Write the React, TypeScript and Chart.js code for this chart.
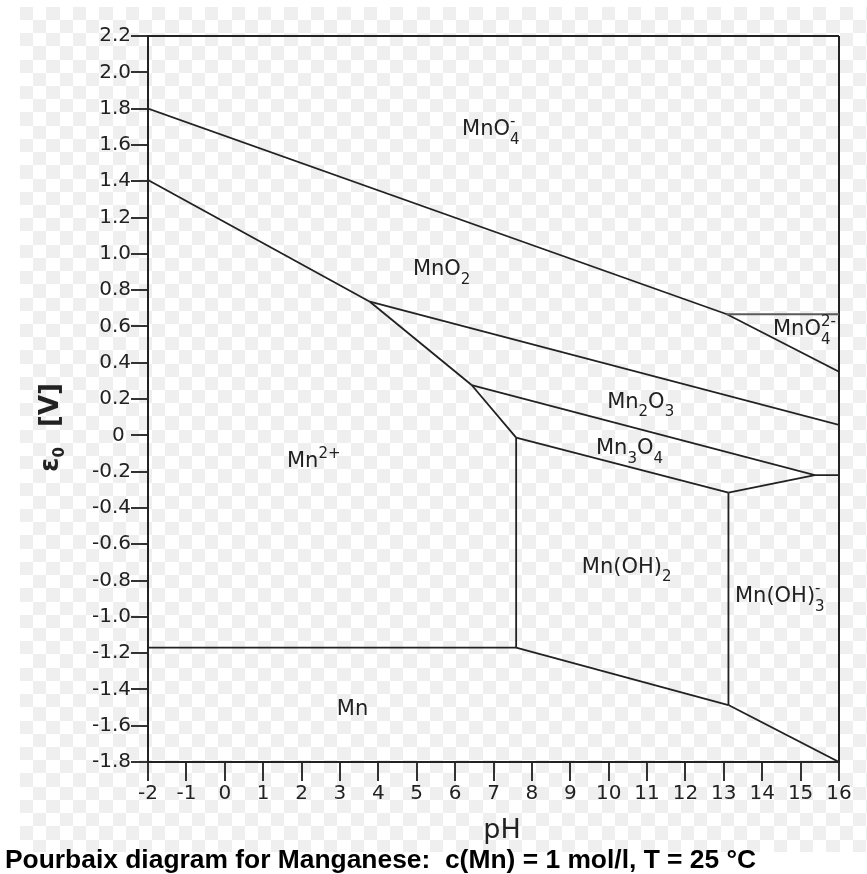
import React, { useEffect, useRef } from 'react';
import { Chart, registerables } from 'chart.js';

Chart.register(...registerables);

const W = 867;
const H = 874;

// Axis ticks
const xTickValues = [-2, -1, 0, 1, 2, 3, 4, 5, 6, 7, 8, 9, 10, 11, 12, 13, 14, 15, 16];
const xTickLabels = ['-2', '-1', '0', '1', '2', '3', '4', '5', '6', '7', '8', '9', '10', '11', '12', '13', '14', '15', '16'];
const yTickValues = [-1.8, -1.6, -1.4, -1.2, -1.0, -0.8, -0.6, -0.4, -0.2, 0, 0.2, 0.4, 0.6, 0.8, 1.0, 1.2, 1.4, 1.6, 1.8, 2.0, 2.2];
const yTickLabels = ['-1.8', '-1.6', '-1.4', '-1.2', '-1.0', '-0.8', '-0.6', '-0.4', '-0.2', '0 ', '0.2', '0.4', '0.6', '0.8', '1.0', '1.2', '1.4', '1.6', '1.8', '2.0', '2.2'];

// Boundary lines (pH, E0 in V)
const mno4MnO2PH = [-2, 13.08];
const mno4MnO2E = [1.80, 0.667];
const mno4Mno42PH = [13.08, 16];
const mno4Mno42E = [0.667, 0.667];
const mno42MnO2PH = [13.08, 16];
const mno42MnO2E = [0.667, 0.35];
const mnO2Mn2PH = [-2, 3.78];
const mnO2Mn2E = [1.407, 0.736];
const mnO2Mn2O3PH = [3.78, 16];
const mnO2Mn2O3E = [0.736, 0.057];
const mn2O3Mn2PH = [3.78, 6.43];
const mn2O3Mn2E = [0.736, 0.277];
const mn2O3Mn3O4PH = [6.43, 15.37, 16];
const mn2O3Mn3O4E = [0.277, -0.219, -0.219];
const mn3O4Mn2PH = [6.43, 7.59];
const mn3O4Mn2E = [0.277, -0.013];
const mn3O4MnOH2PH = [7.59, 13.12];
const mn3O4MnOH2E = [-0.013, -0.316];
const mn3O4MnOH3PH = [13.12, 15.37];
const mn3O4MnOH3E = [-0.316, -0.219];
const mnOH2Mn2PH = [7.59, 7.59];
const mnOH2Mn2E = [-0.013, -1.170];
const mnMn2PH = [-2, 7.59];
const mnMn2E = [-1.170, -1.170];
const mnMnOH2PH = [7.59, 13.12];
const mnMnOH2E = [-1.170, -1.486];
const mnOH2MnOH3PH = [13.12, 13.12];
const mnOH2MnOH3E = [-0.316, -1.486];
const mnMnOH3PH = [13.12, 16];
const mnMnOH3E = [-1.486, -1.80];

// Region labels: chunks of [text, subscript, superscript]
const regionParts: string[][][] = [
  [['MnO', '4', '-']],
  [['MnO', '2', '']],
  [['MnO', '4', '2-']],
  [['Mn', '2', ''], ['O', '3', '']],
  [['Mn', '3', ''], ['O', '4', '']],
  [['Mn', '', '2+']],
  [['Mn(OH)', '2', '']],
  [['Mn(OH)', '3', '-']],
  [['Mn', '', '']],
];
const regionPH = [6.18, 4.90, 14.28, 9.96, 9.67, 1.62, 9.30, 13.29, 2.92];
const regionE = [1.682, 0.911, 0.580, 0.183, -0.075, -0.147, -0.726, -0.891, -1.512];

const xTitle = 'pH';
const chartTitle = 'Pourbaix diagram for Manganese:  c(Mn) = 1 mol/l, T = 25 °C';

const DARK = '#222222';
const FONT = '"DejaVu Sans", Verdana, sans-serif';

const mk = (px: number[], e: number[], color = DARK, width = 1.8) => ({
  data: px.map((v, i) => ({ x: v, y: e[i] })),
  showLine: true,
  borderColor: color,
  borderWidth: width,
  pointRadius: 0,
  fill: false,
});

const checkerPlugin = {
  id: 'checker',
  beforeDraw(chart: any) {
    const ctx = chart.ctx as CanvasRenderingContext2D;
    ctx.save();
    ctx.fillStyle = '#ffffff';
    ctx.fillRect(0, 0, chart.width, chart.height);
    const s = 13.22;
    const x0 = 20;
    const y0 = 6.67;
    const xEnd = 867;
    const yEnd = 852;
    ctx.fillStyle = '#efefef';
    for (let r = 0; y0 + r * s < yEnd; r++) {
      for (let c = 0; x0 + c * s < xEnd; c++) {
        if ((r + c) % 2 !== 0) continue;
        const a = Math.round(x0 + c * s);
        const b = Math.round(Math.min(xEnd, x0 + (c + 1) * s));
        const t = Math.round(y0 + r * s);
        const u = Math.round(Math.min(yEnd, y0 + (r + 1) * s));
        ctx.fillRect(a, t, b - a, u - t);
      }
    }
    ctx.restore();
  },
};

const textPlugin = {
  id: 'texts',
  afterDraw(chart: any) {
    const ctx = chart.ctx as CanvasRenderingContext2D;
    const xs = chart.scales.x;
    const ys = chart.scales.y;
    ctx.save();
    ctx.fillStyle = DARK;
    // region labels
    for (let i = 0; i < regionParts.length; i++) {
      let x = xs.getPixelForValue(regionPH[i]);
      const y = ys.getPixelForValue(regionE[i]);
      ctx.textAlign = 'left';
      ctx.textBaseline = 'middle';
      for (const [main, sub, sup] of regionParts[i]) {
        ctx.font = `21px ${FONT}`;
        ctx.fillText(main, x, y);
        x += ctx.measureText(main).width;
        ctx.font = `15px ${FONT}`;
        let w = 0;
        if (sub) {
          ctx.fillText(sub, x, y + 10);
          w = Math.max(w, ctx.measureText(sub).width);
        }
        if (sup) {
          ctx.fillText(sup, x, y - 8);
          w = Math.max(w, ctx.measureText(sup).width);
        }
        x += w;
      }
    }
    // x axis title
    ctx.font = `27px ${FONT}`;
    ctx.textAlign = 'center';
    ctx.textBaseline = 'alphabetic';
    ctx.fillText(xTitle, 502, 838);
    // y axis title (rotated)
    ctx.save();
    ctx.translate(58, 472);
    ctx.rotate(-Math.PI / 2);
    ctx.textAlign = 'left';
    ctx.font = `bold 26px ${FONT}`;
    ctx.fillText('ε', 0, 0);
    const ew = ctx.measureText('ε').width;
    ctx.font = `bold 15px ${FONT}`;
    ctx.fillText('0', ew, 6);
    ctx.font = `bold 26px ${FONT}`;
    ctx.fillText('[V]', 45, 0);
    ctx.restore();
    // chart title
    ctx.fillStyle = '#000000';
    ctx.font = 'bold 26.4px "Liberation Sans", Arial, sans-serif';
    ctx.textAlign = 'left';
    ctx.fillText(chartTitle, 5, 868);
    ctx.restore();
  },
};

export default function App() {
  const ref = useRef<HTMLCanvasElement>(null);
  useEffect(() => {
    document.body.style.margin = '0';
    const canvas = ref.current!;
    const datasets = [
      mk(mno4MnO2PH, mno4MnO2E),
      mk(mno4Mno42PH, mno4Mno42E, '#5a5a5a', 2.2),
      mk(mno42MnO2PH, mno42MnO2E),
      mk(mnO2Mn2PH, mnO2Mn2E),
      mk(mnO2Mn2O3PH, mnO2Mn2O3E),
      mk(mn2O3Mn2PH, mn2O3Mn2E),
      mk(mn2O3Mn3O4PH, mn2O3Mn3O4E),
      mk(mn3O4Mn2PH, mn3O4Mn2E),
      mk(mn3O4MnOH2PH, mn3O4MnOH2E),
      mk(mn3O4MnOH3PH, mn3O4MnOH3E),
      mk(mnOH2Mn2PH, mnOH2Mn2E),
      mk(mnMn2PH, mnMn2E),
      mk(mnMnOH2PH, mnMnOH2E),
      mk(mnOH2MnOH3PH, mnOH2MnOH3E),
      mk(mnMnOH3PH, mnMnOH3E),
    ];
    const chart = new Chart(canvas, {
      type: 'scatter',
      data: { datasets: datasets as any },
      options: {
        animation: false,
        responsive: false,
        events: [],
        layout: { padding: { left: 0, top: 36, right: 28, bottom: 0 } },
        plugins: { legend: { display: false }, tooltip: { enabled: false }, title: { display: false } },
        scales: {
          x: {
            type: 'linear',
            min: -2,
            max: 16,
            afterBuildTicks: (s: any) => {
              s.ticks = xTickValues.map((v) => ({ value: v }));
            },
            afterFit: (s: any) => {
              s.height = H - 762;
            },
            grid: {
              drawOnChartArea: true,
              color: (c: any) => (c.tick && Math.abs(c.tick.value - 16) < 1e-6 ? DARK : 'rgba(0,0,0,0)'),
              lineWidth: 2,
              tickColor: '#333333',
              tickLength: 19,
              tickWidth: 2,
            },
            border: { display: true, color: DARK, width: 2 },
            ticks: {
              font: { family: FONT, size: 20 },
              color: DARK,
              padding: 1,
              maxRotation: 0,
              autoSkip: false,
              callback: (_v: any, i: number) => xTickLabels[i],
            },
          },
          y: {
            type: 'linear',
            min: -1.8,
            max: 2.2,
            afterBuildTicks: (s: any) => {
              s.ticks = yTickValues.map((v) => ({ value: v }));
            },
            afterFit: (s: any) => {
              s.width = 148;
            },
            grid: {
              drawOnChartArea: true,
              color: (c: any) => (c.tick && Math.abs(c.tick.value - 2.2) < 1e-6 ? DARK : 'rgba(0,0,0,0)'),
              lineWidth: 2,
              tickColor: '#333333',
              tickLength: 17,
              tickWidth: 2,
            },
            border: { display: true, color: DARK, width: 2 },
            ticks: {
              font: { family: FONT, size: 20 },
              color: DARK,
              padding: 0,
              autoSkip: false,
              callback: (_v: any, i: number) => yTickLabels[i],
            },
          },
        },
      },
      plugins: [checkerPlugin, textPlugin],
    });
    return () => chart.destroy();
  }, []);
  return (
    <div style={{ width: W, height: H, position: 'relative' }}>
      <canvas ref={ref} width={W} height={H} style={{ display: 'block', width: W, height: H }} />
    </div>
  );
}
